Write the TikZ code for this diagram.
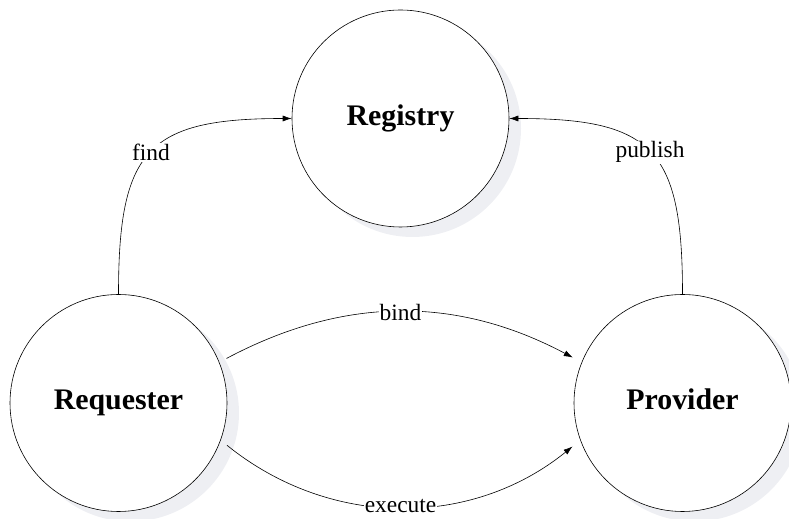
\documentclass[tikz,border=0pt]{standalone}
\usepackage{fontspec}
\setmainfont{Liberation Serif}
\usetikzlibrary{arrows.meta,shadows}
\definecolor{shadowGray}{RGB}{238,239,243}
\begin{document}
\begin{tikzpicture}
[x=1bp,y=1bp,
  nodeDecorate/.style={shape=circle,draw,line width=0.6pt,fill=white,
    minimum size=217bp,inner sep=0pt,text height=20bp,text depth=6bp,
    font=\fontsize{30}{32}\selectfont\bfseries,
    drop shadow={shadow xshift=12bp,shadow yshift=-10bp,fill=shadowGray,opacity=1}},
  lineDecorate/.style={-{Latex[length=9bp,width=6bp]},line width=0.6pt},
  labelDecorate/.style={fill=white,inner sep=1bp,font=\fontsize{23.5}{25}\selectfont}]
\useasboundingbox (0,0) rectangle (789,519);
%% nodes
\foreach \nodename/\nodetext/\x/\y in {
  reg/Registry/400.5/400.5, req/Requester/118.5/116, prov/Provider/682.5/116}
{
  \node (\nodename) at (\x,\y) [nodeDecorate] {\nodetext};
}
%% edges
\draw[lineDecorate] (req.north) to[out=90,in=180,looseness=1.5]
  node[labelDecorate] {find} (reg.west);
\draw[lineDecorate] (prov.north) to[out=90,in=0,looseness=1.5]
  node[labelDecorate] {publish} (reg.east);
\draw[lineDecorate,shorten <=8bp,shorten >=10bp] (req.22) to[bend left=28]
  node[labelDecorate] {bind} (prov.158);
\draw[lineDecorate,shorten <=8bp,shorten >=10bp] (req.-20) to[bend right=39]
  node[labelDecorate] {execute} (prov.-160);
\end{tikzpicture}
\end{document}
